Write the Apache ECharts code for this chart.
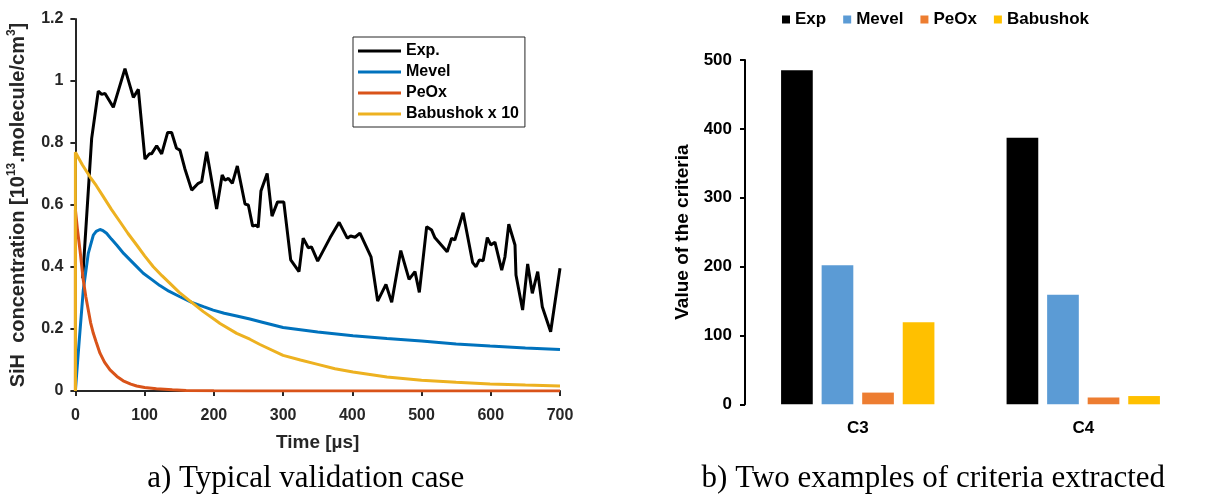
<!DOCTYPE html>
<html>
<head>
<meta charset="utf-8">
<script src="https://cdn.jsdelivr.net/npm/echarts@6/dist/echarts.min.js"></script>
<style>
  html, body { margin: 0; padding: 0; background: #fff; }
  #wrap { position: relative; width: 1216px; height: 495px; overflow: hidden; }
  #left { position: absolute; left: 0; top: 0; width: 640px; height: 495px; }
  #right { position: absolute; left: 640px; top: 0; width: 576px; height: 495px; }
</style>
</head>
<body>
<div id="wrap"><div id="left"></div><div id="right"></div></div>
<script>
// ---- panel a: SiH concentration time histories ----
const expTime = [10.5, 23.5, 33, 38, 42.8, 54.8, 71.6, 83.7, 90.9, 100.5, 106.8, 110, 117.4, 124.6, 133.3, 139, 146, 151, 158, 168, 177.5, 182.4, 189.6, 204, 212, 216, 221, 226.7, 233.9, 245, 249.8, 256, 260.9, 264, 268, 277, 284, 292, 301, 311, 323, 329, 336.4, 341, 350, 367.8, 381, 392.7, 397.6, 404, 411, 427, 436.6, 448.6, 456.9, 470, 482, 490.5, 496.8, 507.4, 514.6, 519.4, 537, 543.5, 548, 560, 573.9, 578.7, 583.5, 589, 595, 600, 606, 615.8, 620.5, 626, 635, 636.4, 646, 653.3, 660, 667.8, 674.4, 686.5, 700];
const expValue = [0.363, 0.815, 0.967, 0.957, 0.96, 0.915, 1.04, 0.947, 0.973, 0.748, 0.765, 0.765, 0.791, 0.765, 0.834, 0.834, 0.783, 0.777, 0.718, 0.648, 0.67, 0.675, 0.772, 0.587, 0.697, 0.68, 0.686, 0.67, 0.726, 0.603, 0.6, 0.532, 0.535, 0.528, 0.645, 0.702, 0.564, 0.61, 0.61, 0.423, 0.385, 0.493, 0.462, 0.465, 0.419, 0.494, 0.544, 0.493, 0.5, 0.496, 0.509, 0.433, 0.29, 0.344, 0.286, 0.453, 0.36, 0.385, 0.318, 0.53, 0.519, 0.494, 0.449, 0.493, 0.487, 0.575, 0.414, 0.401, 0.423, 0.42, 0.495, 0.471, 0.48, 0.39, 0.433, 0.538, 0.471, 0.374, 0.261, 0.41, 0.315, 0.385, 0.272, 0.191, 0.396];

const mevelTime = [0, 2, 5.6, 11.4, 18.6, 25.9, 30, 35.5, 40, 45, 52, 59.6, 70, 78.9, 90, 98, 110, 122, 135, 151, 168, 185, 199, 215, 233, 252, 270, 300, 350, 401, 450, 500, 550, 599, 650, 700];
const mevelValue = [0, 0.06, 0.165, 0.326, 0.444, 0.503, 0.515, 0.521, 0.517, 0.509, 0.49, 0.471, 0.443, 0.423, 0.398, 0.38, 0.36, 0.34, 0.322, 0.304, 0.286, 0.272, 0.261, 0.251, 0.242, 0.232, 0.222, 0.205, 0.19, 0.178, 0.169, 0.161, 0.152, 0.145, 0.139, 0.134];

const peoxTime = [0, 0, 3, 6.6, 11.4, 15, 18.6, 22, 25.9, 30, 35.5, 42, 50, 60, 69, 80, 88.5, 100, 117, 140, 160, 200, 250, 700];
const peoxValue = [0, 0.585, 0.52, 0.455, 0.358, 0.305, 0.261, 0.22, 0.186, 0.158, 0.122, 0.093, 0.068, 0.047, 0.033, 0.022, 0.016, 0.011, 0.007, 0.004, 0.002, 0.001, 0, 0];

const babushokTime = [0, 0, 10, 21, 30, 40.3, 52, 64.4, 76, 88.5, 100, 112.5, 125, 136.6, 150, 168, 184.8, 200, 208.9, 233, 252, 266.6, 300, 325, 350, 375, 401, 450, 500, 550, 599, 650, 700];
const babushokValue = [0, 0.77, 0.73, 0.691, 0.663, 0.627, 0.586, 0.546, 0.508, 0.471, 0.436, 0.401, 0.372, 0.347, 0.318, 0.286, 0.256, 0.232, 0.218, 0.186, 0.167, 0.15, 0.115, 0.1, 0.086, 0.072, 0.061, 0.045, 0.035, 0.028, 0.0226, 0.019, 0.016];

// ---- panel b: criteria values ----
const criteria = ['C3', 'C4'];
const critExp = [485, 387];
const critMevel = [202, 159];
const critPeox = [17, 10];
const critBabushok = [119, 12];

const pair = (xs, ys) => xs.map((x, i) => [x, ys[i]]);

const axisGrey = '#262626';
const sansBold = { fontFamily: 'Liberation Sans, Arial, sans-serif', fontWeight: 'bold' };

const lineSeries = (name, xs, ys, color) => ({
  name, type: 'line', data: pair(xs, ys), showSymbol: false, symbol: 'none',
  lineStyle: { color, width: 3 }, itemStyle: { color }, z: 3
});

const left = echarts.init(document.getElementById('left'), null, { renderer: 'canvas' });
left.setOption({
  animation: false,
  backgroundColor: '#fff',
  grid: { left: 75.4, right: 80, top: 19, bottom: 104, containLabel: false, outerBoundsMode: 'none' },
  legend: {
    orient: 'vertical', left: 353, top: 37,
    borderColor: axisGrey, borderWidth: 1, padding: [6, 6, 5, 5],
    itemWidth: 43, itemHeight: 3, itemGap: 5, icon: 'rect',
    textStyle: { ...sansBold, fontSize: 16, lineHeight: 16, color: '#000' },
    data: ['Exp.', 'Mevel', 'PeOx', 'Babushok x 10']
  },
  xAxis: {
    type: 'value', min: 0, max: 700, interval: 100,
    name: 'Time [µs]', nameLocation: 'middle', nameGap: 42,
    nameTextStyle: { ...sansBold, fontSize: 19, color: axisGrey },
    axisLine: { lineStyle: { color: axisGrey, width: 2 } },
    axisTick: { inside: false, length: 5, lineStyle: { color: axisGrey, width: 2 } },
    axisLabel: { ...sansBold, fontSize: 16, color: axisGrey, margin: 17 },
    splitLine: { show: false }
  },
  yAxis: {
    type: 'value', min: 0, max: 1.2, interval: 0.2,
    name: '{n|SiH  concentration [10}{s|13}{n|.molecule/cm}{s|3}{n|]}',
    nameLocation: 'middle', nameGap: 47, nameRotate: 90,
    nameTextStyle: {
      color: axisGrey,
      rich: {
        n: { ...sansBold, fontSize: 20, color: axisGrey, verticalAlign: 'bottom', lineHeight: 23 },
        s: { ...sansBold, fontSize: 12, color: axisGrey, verticalAlign: 'top', lineHeight: 23 }
      }
    },
    axisLine: { show: true, lineStyle: { color: axisGrey, width: 2 } },
    axisTick: { show: true, inside: false, length: 5, lineStyle: { color: axisGrey, width: 2 } },
    axisLabel: {
      ...sansBold, fontSize: 16, color: axisGrey, margin: 12,
      formatter: v => String(+v.toFixed(1))
    },
    splitLine: { show: false }
  },
  series: [
    lineSeries('Exp.', expTime, expValue, '#000000'),
    lineSeries('Mevel', mevelTime, mevelValue, '#0072BD'),
    lineSeries('PeOx', peoxTime, peoxValue, '#D95319'),
    lineSeries('Babushok x 10', babushokTime, babushokValue, '#EDB120')
  ],
  graphic: [{
    type: 'text',
    style: {
      text: 'a) Typical validation case',
      x: 305.8, y: 479, align: 'center', verticalAlign: 'middle',
      font: '31px "Liberation Serif", "Times New Roman", serif', fill: '#000'
    }
  }]
});

const barSeries = (name, data, color) => ({
  name, type: 'bar', data, barGap: '28%', barCategoryGap: '32%',
  itemStyle: { color }
});

const right = echarts.init(document.getElementById('right'), null, { renderer: 'canvas' });
right.setOption({
  animation: false,
  backgroundColor: '#fff',
  grid: { left: 105, right: 20, top: 60, bottom: 90.7, containLabel: false, outerBoundsMode: 'none' },
  legend: {
    orient: 'horizontal', left: 137, top: 6,
    itemWidth: 8, itemHeight: 8, itemGap: 17, icon: 'rect',
    textStyle: { ...sansBold, fontSize: 17, color: '#000' },
    data: ['Exp', 'Mevel', 'PeOx', 'Babushok']
  },
  xAxis: {
    type: 'category', data: criteria,
    axisLine: { show: false }, axisTick: { show: false },
    axisLabel: { ...sansBold, fontSize: 17, color: '#000', margin: 16 }
  },
  yAxis: {
    type: 'value', min: 0, max: 500, interval: 100,
    name: 'Value of the criteria', nameLocation: 'middle', nameGap: 40, nameRotate: 90,
    nameTextStyle: { ...sansBold, fontSize: 19, color: '#000' },
    axisLine: { show: true, lineStyle: { color: '#000', width: 2 } },
    axisTick: { show: true, inside: false, length: 5, lineStyle: { color: '#000', width: 2 } },
    axisLabel: { ...sansBold, fontSize: 17, color: '#000', margin: 13 },
    splitLine: { show: false }
  },
  series: [
    barSeries('Exp', critExp, '#000000'),
    barSeries('Mevel', critMevel, '#5B9BD5'),
    barSeries('PeOx', critPeox, '#ED7D31'),
    barSeries('Babushok', critBabushok, '#FFC000')
  ],
  graphic: [{
    type: 'text',
    style: {
      text: 'b) Two examples of criteria extracted',
      x: 293.3, y: 479, align: 'center', verticalAlign: 'middle',
      font: '31px "Liberation Serif", "Times New Roman", serif', fill: '#000'
    }
  }]
});
</script>
</body>
</html>
